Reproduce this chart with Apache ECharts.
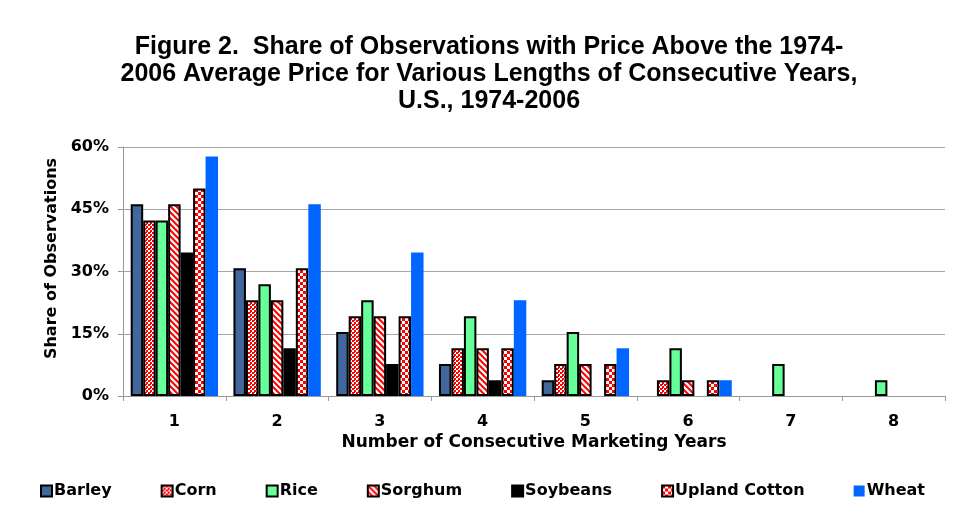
<!DOCTYPE html>
<html>
<head>
<meta charset="utf-8">
<script src="https://cdn.jsdelivr.net/npm/echarts@6/dist/echarts.min.js"></script>
<style>
  html, body { margin: 0; padding: 0; background: #fff; }
  #chart { width: 954px; height: 514px; }
</style>
</head>
<body>
<div id="chart"></div>
<script>
  // data (percent of observations)
  var years = ['1', '2', '3', '4', '5', '6', '7', '8'];
  var barley = [46.2, 30.8, 15.4, 7.7, 3.8, 0, 0, 0];
  var corn = [42.3, 23.1, 19.2, 11.5, 7.7, 3.8, 0, 0];
  var rice = [42.3, 26.9, 23.1, 19.2, 15.4, 11.5, 7.7, 3.8];
  var sorghum = [46.2, 23.1, 19.2, 11.5, 7.7, 3.8, 0, 0];
  var soybeans = [34.6, 11.5, 7.7, 3.8, 0, 0, 0, 0];
  var cotton = [50.0, 30.8, 19.2, 11.5, 7.7, 3.8, 0, 0];
  var wheat = [57.7, 46.2, 34.6, 23.1, 11.5, 3.8, 0, 0];
  var yTicks = [0, 15, 30, 45, 60];

  var RED = '#ff0000';
  var FONT = 'DejaVu Sans, Arial, sans-serif';

  // small canvas patterns for the hatched bars
  function makePattern(size, draw) {
    var c = document.createElement('canvas');
    c.width = size; c.height = size;
    var ctx = c.getContext('2d');
    ctx.fillStyle = '#fff';
    ctx.fillRect(0, 0, size, size);
    ctx.fillStyle = RED;
    ctx.strokeStyle = RED;
    draw(ctx, size);
    return { image: c, repeat: 'repeat' };
  }

  // corn: red dots
  var dotPattern = makePattern(4, function (ctx) {
    ctx.fillRect(0, 0, 2, 2);
    ctx.fillRect(2, 2, 2, 2);
    ctx.fillRect(2, 0, 1, 1);
  });
  // sorghum: diagonal stripes
  var stripePattern = makePattern(6, function (ctx, s) {
    ctx.lineWidth = 2;
    ctx.beginPath();
    ctx.moveTo(-1, -1); ctx.lineTo(s + 1, s + 1);
    ctx.moveTo(-1 - s, -1); ctx.lineTo(1, s + 1);
    ctx.moveTo(s - 1, -1); ctx.lineTo(2 * s + 1, s + 1);
    ctx.stroke();
  });
  // upland cotton: checkerboard
  var checkPattern = makePattern(6, function (ctx) {
    ctx.fillRect(0, 0, 3, 3);
    ctx.fillRect(3, 3, 3, 3);
  });

  var chart = echarts.init(document.getElementById('chart'));

  function bar(name, data, fill, bordered) {
    return {
      name: name,
      type: 'bar',
      // zero shares draw nothing in the original
      data: data.map(function (v) { return v === 0 ? null : v; }),
      barGap: '0%',
      barCategoryGap: '15%',
      itemStyle: {
        color: fill,
        borderColor: bordered ? '#000' : fill,
        borderWidth: bordered ? 2 : 0
      }
    };
  }

  var option = {
    animation: false,
    backgroundColor: '#fff',
    title: {
      text: 'Figure 2.  Share of Observations with Price Above the 1974-\n2006 Average Price for Various Lengths of Consecutive Years,\nU.S., 1974-2006',
      left: 484,
      top: 29,
      textAlign: 'center',
      textStyle: {
        fontFamily: 'Liberation Sans, Arial, sans-serif',
        fontSize: 25,
        fontWeight: 'bold',
        color: '#000',
        lineHeight: 27
      }
    },
    legend: {
      bottom: 10,
      left: 35,
      itemWidth: 11,
      itemHeight: 11,
      itemGap: 49,
      icon: 'rect',
      textStyle: {
        fontFamily: FONT,
        fontSize: 16,
        fontWeight: 'bold',
        color: '#000',
        padding: [0, 0, 0, -3]
      },
      data: ['Barley', 'Corn', 'Rice', 'Sorghum', 'Soybeans', 'Upland Cotton', 'Wheat']
    },
    grid: {
      left: 123,
      right: 9,
      top: 147,
      bottom: 118
    },
    xAxis: {
      type: 'category',
      data: years,
      name: 'Number of Consecutive Marketing Years',
      nameLocation: 'middle',
      nameGap: 38,
      nameTextStyle: {
        fontFamily: FONT,
        fontSize: 17,
        fontWeight: 'bold',
        color: '#000'
      },
      axisLine: { lineStyle: { color: '#999', width: 1 } },
      axisTick: { show: true, length: 5, lineStyle: { color: '#999' } },
      axisLabel: {
        fontFamily: FONT,
        fontSize: 16,
        fontWeight: 'bold',
        color: '#000',
        margin: 18
      }
    },
    yAxis: {
      type: 'value',
      min: yTicks[0],
      max: yTicks[yTicks.length - 1],
      interval: 15,
      name: 'Share of Observations',
      nameLocation: 'middle',
      nameGap: 60,
      nameRotate: 90,
      nameTextStyle: {
        fontFamily: FONT,
        fontSize: 16,
        fontWeight: 'bold',
        color: '#000',
        padding: [0, 0, 0, 26]
      },
      axisLine: { show: true, lineStyle: { color: '#999', width: 1 } },
      axisTick: { show: true, length: 5, lineStyle: { color: '#999' } },
      splitLine: { lineStyle: { color: '#a6a6a6', width: 1 } },
      axisLabel: {
        formatter: '{value}%',
        fontFamily: FONT,
        fontSize: 16,
        fontWeight: 'bold',
        color: '#000',
        margin: 14
      }
    },
    series: [
      bar('Barley', barley, '#41679c', true),
      bar('Corn', corn, dotPattern, true),
      bar('Rice', rice, '#66ff99', true),
      bar('Sorghum', sorghum, stripePattern, true),
      bar('Soybeans', soybeans, '#000000', true),
      bar('Upland Cotton', cotton, checkPattern, true),
      bar('Wheat', wheat, '#0066ff', false)
    ]
  };

  chart.setOption(option);
</script>
</body>
</html>
